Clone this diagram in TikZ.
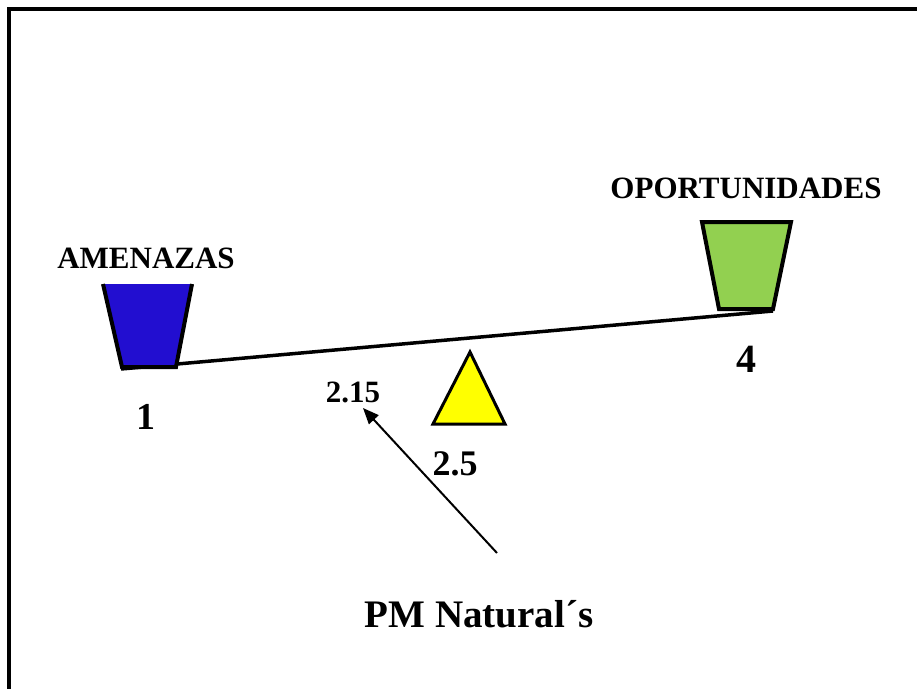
\documentclass[tikz,border=0pt]{standalone}
\usepackage{fontspec}
\setmainfont{Liberation Serif}
\usetikzlibrary{arrows.meta}
\definecolor{amblue}{RGB}{34,14,208}
\definecolor{opgreen}{RGB}{146,208,80}
\definecolor{triyellow}{RGB}{255,255,0}
\tikzset{
  lbl/.style={inner sep=0pt, anchor=base, font=\bfseries},
  bucket/.style={line width=4pt, line join=miter},
}
\begin{document}
\begin{tikzpicture}[x=1pt,y=-1pt]
\useasboundingbox (0,0) rectangle (917,688);
% frame
\begin{scope}
\clip (0,0) rectangle (917,688);
\draw[line width=4pt] (9,720) -- (9,9) -- (940,9);
\end{scope}
% lever
\coordinate (levL) at (121,369);
\coordinate (levR) at (773,311);
\draw[line width=3.5pt] (levL) -- (levR);
% blue bucket (open top)
\fill[amblue] (103,284) -- (122,367) -- (176,367) -- (192,284) -- cycle;
\draw[bucket] (103,284) -- (122,367) -- (176,367) -- (192,284);
% green bucket
\filldraw[bucket, fill=opgreen] (702,222) -- (719,309) -- (773,309) -- (791,222) -- cycle;
% fulcrum
\filldraw[line width=3pt, fill=triyellow, line join=miter] (470,352) -- (505,424) -- (433,424) -- cycle;
% labels
\node[lbl, font=\fontsize{31}{31}\bfseries] (amen) at (146,268) {AMENAZAS};
\node[lbl, font=\fontsize{31}{31}\bfseries] (opor) at (746,198) {OPORTUNIDADES};
\node[lbl, font=\fontsize{38}{38}\bfseries] (one) at (146,429) {1};
\node[lbl, font=\fontsize{40}{40}\bfseries] (four) at (746,372) {4};
\node[lbl, font=\fontsize{36}{36}\bfseries] (twofive) at (455,475) {2.5};
\node[lbl, font=\fontsize{31}{31}\bfseries] (twoonefive) at (353,402) {2.15};
\node[lbl, font=\fontsize{39}{39}\bfseries] (pm) at (479,627) {PM Natural´s};
% arrow
\coordinate (arrTail) at (497,553);
\coordinate (arrTip) at (363,408);
\draw[line width=2pt, -{Triangle[length=16pt,width=13pt]}] (arrTail) -- (arrTip);
\end{tikzpicture}
\end{document}
